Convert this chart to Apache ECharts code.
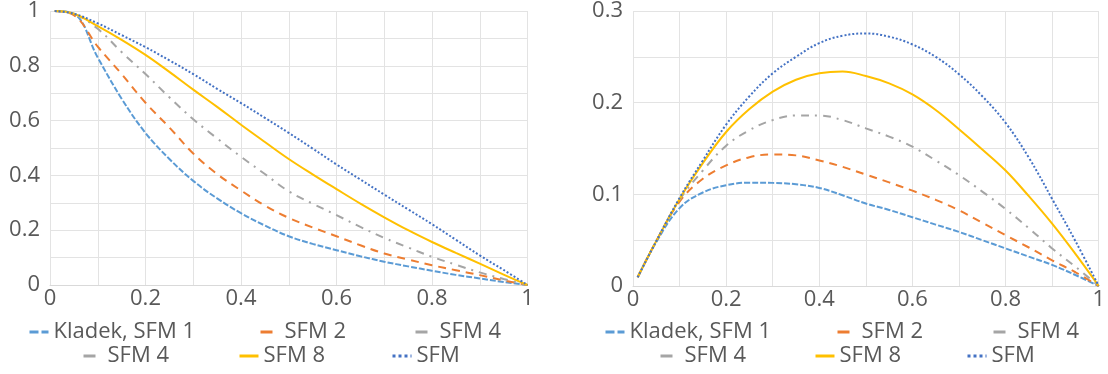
<!DOCTYPE html>
<html>
<head>
<meta charset="utf-8">
<script src="https://cdn.jsdelivr.net/npm/echarts@6/dist/echarts.min.js"></script>
<style>html,body{margin:0;padding:0;background:#fff;}#c{width:1108px;height:374px;}</style>
</head>
<body>
<div id="c"></div>
<script>
// x positions of the sampled points (both panels)
const xs = [0.01, 0.05, 0.1, 0.15, 0.2, 0.25, 0.3, 0.35, 0.4, 0.45, 0.5, 0.55, 0.6, 0.65, 0.7, 0.75, 0.8, 0.85, 0.9, 0.95, 1];

// left panel values
const leftKladek = [1, 0.99, 0.83, 0.68, 0.555, 0.46, 0.38, 0.316, 0.262, 0.217, 0.178, 0.15, 0.127, 0.105, 0.085, 0.068, 0.052, 0.037, 0.024, 0.011, 0];
const leftSFM2   = [1, 0.985, 0.87, 0.77, 0.665, 0.575, 0.48, 0.405, 0.345, 0.29, 0.245, 0.21, 0.178, 0.145, 0.115, 0.093, 0.072, 0.054, 0.036, 0.017, 0];
const leftSFM4   = [1, 0.99, 0.935, 0.85, 0.77, 0.685, 0.605, 0.535, 0.468, 0.405, 0.342, 0.297, 0.255, 0.212, 0.172, 0.137, 0.103, 0.074, 0.046, 0.022, 0];
const leftSFM8   = [1, 0.99, 0.945, 0.895, 0.84, 0.778, 0.713, 0.65, 0.585, 0.522, 0.46, 0.404, 0.35, 0.297, 0.247, 0.2, 0.157, 0.117, 0.078, 0.038, 0];
const leftSFM    = [1, 0.99, 0.955, 0.912, 0.868, 0.82, 0.77, 0.716, 0.664, 0.61, 0.555, 0.498, 0.44, 0.385, 0.33, 0.276, 0.222, 0.165, 0.108, 0.055, 0];

// right panel values
const rightKladek = [0.0095, 0.048, 0.085, 0.102, 0.11, 0.1127, 0.1125, 0.111, 0.107, 0.099, 0.09, 0.083, 0.075, 0.067, 0.059, 0.05, 0.041, 0.032, 0.023, 0.012, 0];
const rightSFM2   = [0.0095, 0.049, 0.092, 0.117, 0.1315, 0.1405, 0.1435, 0.1425, 0.137, 0.13, 0.1215, 0.113, 0.104, 0.094, 0.0826, 0.069, 0.0554, 0.042, 0.028, 0.015, 0];
const rightSFM4   = [0.0095, 0.049, 0.094, 0.126, 0.153, 0.17, 0.181, 0.186, 0.186, 0.181, 0.172, 0.163, 0.152, 0.137, 0.121, 0.103, 0.084, 0.063, 0.041, 0.021, 0];
const rightSFM8   = [0.0095, 0.049, 0.095, 0.134, 0.168, 0.193, 0.212, 0.225, 0.232, 0.234, 0.229, 0.221, 0.209, 0.192, 0.171, 0.149, 0.126, 0.098, 0.068, 0.035, 0];
const rightSFM    = [0.0095, 0.049, 0.096, 0.137, 0.176, 0.207, 0.232, 0.25, 0.265, 0.273, 0.2755, 0.272, 0.2635, 0.25, 0.231, 0.207, 0.178, 0.14, 0.095, 0.049, 0];

// tick labels
const xTicks = ['0', '0.2', '0.4', '0.6', '0.8', '1'];
const leftYTicks = ['0', '0.2', '0.4', '0.6', '0.8', '1'];
const rightYTicks = ['0', '0.1', '0.2', '0.3'];

const names = ['Kladek, SFM 1', 'SFM 2', 'SFM 4', 'SFM 4 ', 'SFM 8', 'SFM'];
const colors = ['#5B9BD5', '#ED7D31', '#A5A5A5', '#A5A5A5', '#FFC000', '#4472C4'];
const dashes = [[6, 2], [8, 6], [8, 6, 2, 6], [8, 6, 2, 6], 'solid', [2, 2]];
const legendDashes = [[9, 3], [12, 30], [12, 30], [12, 30], 'solid', [3, 3]];

const leftSets = [leftKladek, leftSFM2, leftSFM4, null, leftSFM8, leftSFM];
const rightSets = [rightKladek, rightSFM2, rightSFM4, null, rightSFM8, rightSFM];

const FONT = 'Open Sans';
const labelColor = '#595959';
const gridColor = '#E3E3E3';

function pairs(arr) { return arr ? xs.map((x, i) => [x, arr[i]]) : []; }

function fmt(ticks, step) {
  return function (v) {
    const idx = Math.round(v / step);
    return ticks[idx] !== undefined ? ticks[idx] : '';
  };
}

function xAxis(gi) {
  return {
    type: 'value', gridIndex: gi, min: 0, max: 1, interval: 0.2,
    axisLine: { show: true, lineStyle: { color: '#D9D9D9', width: 1 } },
    axisTick: { show: false },
    axisLabel: { color: labelColor, fontFamily: FONT, fontSize: 22, margin: 3, formatter: fmt(xTicks, 0.2) },
    splitLine: { show: true, lineStyle: { color: gridColor, width: 1 } },
    minorTick: { show: false, splitNumber: 2 },
    minorSplitLine: { show: true, lineStyle: { color: gridColor, width: 1 } }
  };
}

const series = [];
names.forEach((n, i) => {
  [[0, leftSets[i]], [1, rightSets[i]]].forEach(([gi, arr]) => {
    series.push({
      name: n, type: 'line', xAxisIndex: gi, yAxisIndex: gi,
      data: pairs(arr), showSymbol: false, symbol: 'none',
      smooth: 0.4,
      lineStyle: { color: colors[i], width: 2, type: dashes[i], cap: 'butt' },
      itemStyle: { color: colors[i] },
      emphasis: { disabled: true }, silent: true
    });
  });
});

// legend positions [left, top]
const legendPos = [
  [[28, 320], [259, 320], [414, 320], [82, 344], [238, 344], [391, 344]],
  [[604, 320], [836, 320], [992, 320], [659, 344], [814, 344], [966, 344]]
];
const legends = [];
legendPos.forEach(panel => {
  panel.forEach((p, i) => {
    legends.push({
      data: [names[i]], left: p[0], top: p[1], orient: 'horizontal',
      itemWidth: 19, itemHeight: 14, itemGap: 0, padding: 0,
      selectedMode: false,
      textStyle: { color: labelColor, fontFamily: FONT, fontSize: 22, lineHeight: 24 },
      lineStyle: { width: 3, type: legendDashes[i], color: colors[i], cap: 'butt' },
      itemStyle: { opacity: 0 }
    });
  });
});

const option = {
  backgroundColor: '#ffffff',
  animation: false,
  grid: [
    { left: 50, top: 9, width: 477.5, height: 276, containLabel: false },
    { left: 633, top: 10, width: 470, height: 276, containLabel: false }
  ],
  xAxis: [xAxis(0), xAxis(1)],
  yAxis: [
    {
      type: 'value', gridIndex: 0, min: 0, max: 1, interval: 0.2,
      axisLine: { show: false }, axisTick: { show: false },
      axisLabel: { color: labelColor, fontFamily: FONT, fontSize: 22, margin: 10, formatter: fmt(leftYTicks, 0.2) },
      splitLine: { show: true, lineStyle: { color: gridColor, width: 1 } },
      minorTick: { show: false, splitNumber: 2 },
      minorSplitLine: { show: true, lineStyle: { color: gridColor, width: 1 } }
    },
    {
      type: 'value', gridIndex: 1, min: 0, max: 0.3, interval: 0.1,
      axisLine: { show: false }, axisTick: { show: false },
      axisLabel: { color: labelColor, fontFamily: FONT, fontSize: 22, margin: 10, formatter: fmt(rightYTicks, 0.1) },
      splitLine: { show: true, lineStyle: { color: gridColor, width: 1 } },
      minorTick: { show: false, splitNumber: 2 },
      minorSplitLine: { show: true, lineStyle: { color: gridColor, width: 1 } }
    }
  ],
  legend: legends,
  series: series
};

const chart = echarts.init(document.getElementById('c'), null, { renderer: 'canvas' });
chart.setOption(option);
</script>
</body>
</html>
